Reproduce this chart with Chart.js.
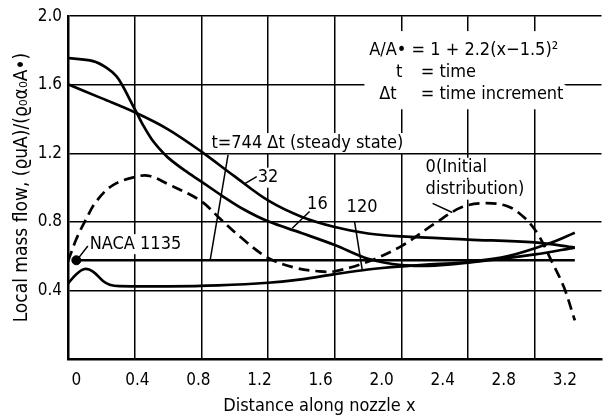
<!DOCTYPE html>
<html>
<head>
<meta charset="utf-8">
<script src="https://cdn.jsdelivr.net/npm/chart.js@4"></script>
<style>
html, body { margin: 0; padding: 0; background: #fff; }
#wrap { width: 607px; height: 415px; }
</style>
</head>
<body>
<div id="wrap"><canvas id="mass-flow-chart"></canvas></div>
<script>
// axis ticks
var xTicks = [0, 0.4, 0.8, 1.2, 1.6, 2.0, 2.4, 2.8, 3.2];
var xGrid = [0, 0.4, 0.8, 1.2, 1.6, 2.0, 2.4, 2.8];
var yTicks = [0, 0.4, 0.8, 1.2, 1.6, 2.0];

// t = 0 (initial distribution)
var t0X = [0, 0.05, 0.1, 0.17, 0.27, 0.41, 0.49, 0.6, 0.74, 0.82, 0.9, 1.04, 1.2, 1.36, 1.5, 1.6, 1.81, 2.0, 2.2, 2.36, 2.5, 2.64, 2.74, 2.82, 2.9, 2.975, 3.04];
var t0Y = [0.57, 0.70, 0.80, 0.92, 1.015, 1.064, 1.068, 1.02, 0.955, 0.905, 0.83, 0.707, 0.59, 0.533, 0.512, 0.512, 0.572, 0.659, 0.79, 0.885, 0.909, 0.89, 0.822, 0.726, 0.572, 0.418, 0.225];

// t = 16 dt
var t16X = [0, 0.15, 0.23, 0.29, 0.33, 0.37, 0.41, 0.45, 0.5, 0.55, 0.6, 0.7, 0.8, 0.92, 1.05, 1.2, 1.4, 1.6, 1.8, 2.0, 2.2, 2.4, 2.8, 3.04];
var t16Y = [1.755, 1.738, 1.70, 1.65, 1.59, 1.515, 1.44, 1.365, 1.285, 1.225, 1.175, 1.10, 1.035, 0.955, 0.875, 0.803, 0.735, 0.665, 0.585, 0.548, 0.545, 0.562, 0.61, 0.65];

// t = 32 dt
var t32X = [0, 0.2, 0.41, 0.6, 0.8, 1.0, 1.2, 1.4, 1.6, 1.8, 2.0, 2.4, 2.8, 3.04];
var t32Y = [1.603, 1.522, 1.435, 1.34, 1.21, 1.065, 0.925, 0.83, 0.77, 0.732, 0.715, 0.697, 0.68, 0.65];

// t = 120 dt
var t120X = [0, 0.05, 0.1, 0.15, 0.21, 0.25, 0.31, 0.6, 0.9, 1.2, 1.4, 1.6, 1.8, 2.0, 2.2, 2.4, 2.64, 2.88, 3.04];
var t120Y = [0.44, 0.495, 0.525, 0.51, 0.455, 0.433, 0.425, 0.424, 0.43, 0.445, 0.465, 0.495, 0.522, 0.54, 0.553, 0.566, 0.60, 0.672, 0.736];

// t = 744 dt (steady state)
var t744X = [0.05, 3.04];
var t744Y = [0.576, 0.576];

// NACA 1135 value
var nacaX = [0.05];
var nacaY = [0.576];

// text on the plot (data coordinates, left edge / middle)
var notes = [
    { text: 't=744 \u0394t (steady state)', x: 0.86, y: 1.26 },
    { text: '32', x: 1.138, y: 1.058 },
    { text: '16', x: 1.434, y: 0.905 },
    { text: '120', x: 1.671, y: 0.884 },
    { text: '0(Initial', x: 2.145, y: 1.116 },
    { text: 'distribution)', x: 2.145, y: 0.988 },
    { text: 'NACA 1135', x: 0.13, y: 0.67 },
    { text: 'A/A\u2022 = 1 + 2.2(x\u22121.5)\u00b2', x: 1.807, y: 1.798 },
    { text: 't', x: 1.967, y: 1.67 },
    { text: '= time', x: 2.116, y: 1.67 },
    { text: '\u0394t', x: 1.867, y: 1.543 },
    { text: '= time increment', x: 2.116, y: 1.543 }
];
var leaders = [
    [0.96, 1.191, 0.853, 0.578],
    [1.061, 1.023, 1.132, 1.064],
    [1.345, 0.763, 1.449, 0.861],
    [1.766, 0.514, 1.719, 0.80],
    [2.305, 0.855, 2.187, 0.908],
    [0.059, 0.584, 0.119, 0.659]
];
var eqBox = [1.778, 1.913, 2.975, 1.457];

function pts(xs, ys) {
    return xs.map(function (v, i) { return { x: v, y: ys[i] }; });
}

var fontFamily = "'DejaVu Sans Condensed', 'Liberation Sans Narrow', 'DejaVu Sans', sans-serif";
Chart.defaults.font.family = fontFamily;
Chart.defaults.color = '#000';

var notesPlugin = {
    id: 'notes',
    beforeDatasetsDraw: function (chart) {
        var ctx = chart.ctx, xs = chart.scales.x, ys = chart.scales.y;
        ctx.save();
        ctx.fillStyle = '#fff';
        var bx = xs.getPixelForValue(eqBox[0]), by = ys.getPixelForValue(eqBox[1]);
        ctx.fillRect(bx, by, xs.getPixelForValue(eqBox[2]) - bx, ys.getPixelForValue(eqBox[3]) - by);
        ctx.font = '18px ' + fontFamily;
        ctx.textBaseline = 'middle';
        notes.forEach(function (n) {
            var px = xs.getPixelForValue(n.x), py = ys.getPixelForValue(n.y);
            var w = ctx.measureText(n.text).width;
            ctx.fillStyle = '#fff';
            ctx.fillRect(px - 2, py - 10, w + 4, 20);
            ctx.fillStyle = '#000';
            ctx.fillText(n.text, px, py);
        });
        ctx.strokeStyle = '#000';
        ctx.lineWidth = 1.5;
        leaders.forEach(function (l) {
            ctx.beginPath();
            ctx.moveTo(xs.getPixelForValue(l[0]), ys.getPixelForValue(l[1]));
            ctx.lineTo(xs.getPixelForValue(l[2]), ys.getPixelForValue(l[3]));
            ctx.stroke();
        });
        ctx.restore();
    }
};

var curve = {
    showLine: true,
    borderColor: '#000',
    backgroundColor: '#000',
    borderWidth: 2.7,
    pointRadius: 0,
    tension: 0.35
};

const ctx = document.getElementById('mass-flow-chart').getContext('2d');
var chart = new Chart(ctx, {
    type: 'scatter',
    data: {
        datasets: [
            Object.assign({}, curve, { label: '0', data: pts(t0X, t0Y), borderDash: [11, 6] }),
            Object.assign({}, curve, { label: '16', data: pts(t16X, t16Y) }),
            Object.assign({}, curve, { label: '32', data: pts(t32X, t32Y) }),
            Object.assign({}, curve, { label: '120', data: pts(t120X, t120Y) }),
            Object.assign({}, curve, { label: '744', data: pts(t744X, t744Y) }),
            { label: 'NACA 1135', data: pts(nacaX, nacaY), pointRadius: 4.5, backgroundColor: '#000', borderColor: '#000' }
        ]
    },
    plugins: [notesPlugin],
    options: {
        responsive: true,
        maintainAspectRatio: false,
        animation: false,
        layout: { padding: { top: 13, right: 0, left: 0, bottom: 0 } },
        plugins: {
            legend: { display: false },
            tooltip: { enabled: false }
        },
        scales: {
            x: {
                type: 'linear',
                position: 'bottom',
                weight: 0,
                min: 0,
                max: 3.2,
                ticks: { display: false },
                grid: { color: '#000', lineWidth: 1.5, drawTicks: false },
                border: { display: true, color: '#000', width: 2.5 },
                afterBuildTicks: function (s) { s.ticks = xGrid.map(function (v) { return { value: v }; }); },
                afterFit: function (s) { s.height = 0; }
            },
            xt: {
                type: 'linear',
                position: 'bottom',
                weight: 1,
                min: -0.054,
                max: 3.44,
                grid: { display: false, drawTicks: false },
                border: { display: false },
                ticks: {
                    padding: 11,
                    autoSkip: false,
                    maxRotation: 0,
                    font: { size: 17 },
                    callback: function (v) { return v === 0 ? '0' : v.toFixed(1); }
                },
                afterBuildTicks: function (s) { s.ticks = xTicks.map(function (v) { return { value: v }; }); },
                title: {
                    display: true,
                    text: 'Distance along nozzle x\u00a0\u00a0\u00a0\u00a0\u00a0\u00a0',
                    font: { size: 18, lineHeight: 1 },
                    padding: 0
                },
                afterFit: function (s) { s.height = 56; }
            },
            y: {
                min: 0,
                max: 2,
                ticks: {
                    padding: 6,
                    font: { size: 17 },
                    callback: function (v) { return v === 0 ? '' : v.toFixed(1); }
                },
                afterBuildTicks: function (s) { s.ticks = yTicks.map(function (v) { return { value: v }; }); },
                grid: { color: '#000', lineWidth: 1.5, drawTicks: false },
                border: { display: true, color: '#000', width: 2.5 },
                title: {
                    display: true,
                    text: 'Local mass flow, (\u03f1uA)/(\u03f1\u2080\u03b1\u2080A\u2022)',
                    font: { size: 19 },
                    padding: { top: 11, bottom: 0 }
                },
                afterFit: function (s) { s.width = 68; }
            }
        }
    }
});
</script>
</body>
</html>
